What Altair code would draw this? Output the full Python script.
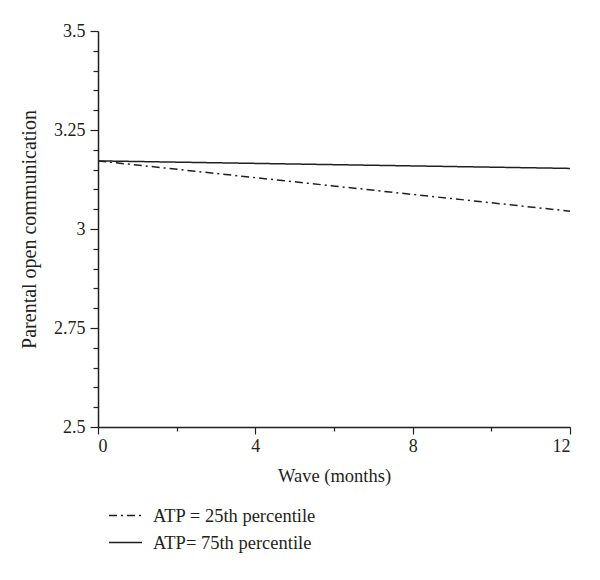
import altair as alt
import pandas as pd

waves = [0, 12]
atp25 = [3.172, 3.045]
atp75 = [3.172, 3.153]
series_names = ["ATP = 25th percentile", "ATP= 75th percentile"]

x_ticks = [0, 2, 4, 6, 8, 10, 12]
y_ticks = [round(2.5 + 0.05 * i, 2) for i in range(21)]

rows = []
for w, v in zip(waves, atp25):
    rows.append({"wave": w, "value": v, "series": series_names[0]})
for w, v in zip(waves, atp75):
    rows.append({"wave": w, "value": v, "series": series_names[1]})
df = pd.DataFrame(rows)

FONT = "Liberation Serif"
INK = "#231f20"

x_major = "datum.value % 4 == 0"
y_major = "abs(datum.value * 4 - round(datum.value * 4)) < 0.001"

chart = alt.Chart(df).mark_line(strokeWidth=1.5, color=INK).encode(
    x=alt.X(
        "wave:Q",
        scale=alt.Scale(domain=[0, 12], nice=False, zero=False),
        axis=alt.Axis(
            title="Wave (months)",
            values=x_ticks,
            labelExpr=f"{x_major} ? datum.label : ''",
            tickSize={"condition": {"test": x_major, "value": 7}, "value": 4},
            labelPadding=3,
            titlePadding=11,
            titleFontSize=18.5,
            grid=False,
        ),
    ),
    y=alt.Y(
        "value:Q",
        scale=alt.Scale(domain=[2.5, 3.5], nice=False, zero=False),
        axis=alt.Axis(
            title="Parental open communication",
            values=y_ticks,
            labelExpr=f"{y_major} ? toString(round(datum.value * 100) / 100) : ''",
            tickSize={"condition": {"test": y_major, "value": 8}, "value": 5},
            labelPadding=5,
            titlePadding=14,
            titleFontSize=20,
            grid=False,
        ),
    ),
    strokeDash=alt.StrokeDash(
        "series:N",
        scale=alt.Scale(domain=series_names, range=[[8, 4, 2, 4], [1, 0]]),
        sort=series_names,
        legend=alt.Legend(
            title=None,
            orient="none",
            legendX=10,
            legendY=467,
            padding=0,
            symbolType="stroke",
            symbolSize=1089,
            symbolStrokeColor=INK,
            symbolStrokeWidth=1.5,
            labelFont=FONT,
            labelFontSize=18.5,
            labelColor=INK,
            labelOffset=10,
            labelLimit=400,
            rowPadding=-12,
        ),
    ),
    order="wave:Q",
).properties(
    width=472,
    height=396,
    background="white",
    autosize=alt.AutoSizeParams(type="none"),
    padding={"left": 90, "top": 23, "right": 20, "bottom": 140},
).configure_view(
    stroke=None
).configure_axis(
    domainColor=INK,
    domainWidth=1.5,
    tickColor=INK,
    tickWidth=1.2,
    labelFont=FONT,
    labelFontSize=18,
    labelColor=INK,
    titleFont=FONT,
    titleFontWeight="normal",
    titleColor=INK,
    grid=False,
)

chart.save("out.html", embed_options={"renderer": "svg", "actions": False})
